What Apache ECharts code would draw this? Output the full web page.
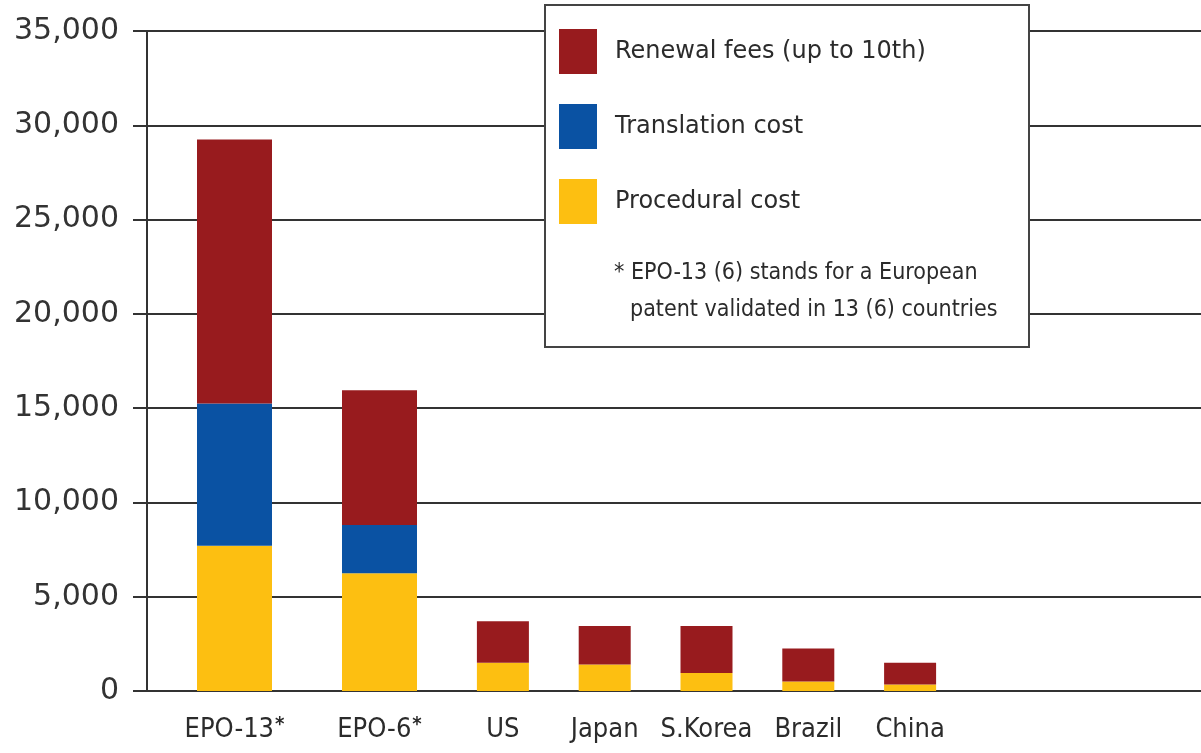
<!DOCTYPE html>
<html>
<head>
    <meta charset="utf-8">
    <script src="https://cdn.jsdelivr.net/npm/echarts@6/dist/echarts.min.js"></script>
    <style>
        html, body { margin: 0; padding: 0; background: #fff; }
        #chart { width: 1201px; height: 753px; }
    </style>
</head>
<body>
    <div id="chart"></div>
    <script>
        // categories and cost components (EUR)
        let epoNames = ['EPO-13*', 'EPO-6*'];
        let otherNames = ['US', 'Japan', 'S.Korea', 'Brazil', 'China'];
        let procedural = [7700, 6250, 1500, 1400, 950, 500, 350];
        let translation = [7550, 2550, 0, 0, 0, 0, 0];
        let renewal = [14000, 7150, 2200, 2050, 2500, 1750, 1150];
        let yTicks = [0, 35000, 5000]; // min, max, interval

        let colors = { renewal: '#981b1e', translation: '#0a52a3', procedural: '#fdbf11' };
        let labelFont = "'Liberation Sans Narrow', 'DejaVu Sans Condensed', sans-serif";

        var chart = echarts.init(document.getElementById('chart'), null, { renderer: 'canvas' });

        function xLabel(v) {
            if (v.indexOf('*') >= 0) return '{a|' + v.replace('*', '') + '}{s|*}';
            return '{a|' + v + '}';
        }

        function hiddenY(idx) {
            return { type: 'value', gridIndex: idx, min: yTicks[0], max: yTicks[1], interval: yTicks[2], show: false };
        }

        function catX(idx, names) {
            return {
                type: 'category', gridIndex: idx, data: names,
                axisLine: { show: false }, axisTick: { show: false },
                axisLabel: {
                    margin: 24, formatter: xLabel,
                    rich: {
                        a: { fontFamily: labelFont, fontSize: 27, lineHeight: 30, color: '#2b2b2b' },
                        s: { fontFamily: labelFont, fontSize: 20, fontWeight: 'bold', lineHeight: 30, color: '#2b2b2b', verticalAlign: 'top', padding: [0, 0, 0, 1] }
                    }
                }
            };
        }

        function barSeries(name, values, color, idx, width) {
            return {
                name: name, type: 'bar', stack: 'g' + idx,
                xAxisIndex: idx, yAxisIndex: idx,
                barWidth: width, data: values,
                itemStyle: { color: color }, z: 2
            };
        }

        var n = epoNames.length;
        var option = {
            animation: false,
            grid: [
                { left: 147, right: 0, top: 31, bottom: 62 },
                { left: 162, width: 290, top: 31, bottom: 62 },
                { left: 452, width: 509, top: 31, bottom: 62 }
            ],
            xAxis: [
                {
                    type: 'value', gridIndex: 0, min: 0, max: 1,
                    axisLine: { show: true, lineStyle: { color: '#333', width: 2 } },
                    axisTick: { show: false }, axisLabel: { show: false }, splitLine: { show: false }
                },
                catX(1, epoNames),
                catX(2, otherNames)
            ],
            yAxis: [
                {
                    type: 'value', gridIndex: 0, min: yTicks[0], max: yTicks[1], interval: yTicks[2],
                    axisLine: { show: true, lineStyle: { color: '#333', width: 2 } },
                    axisTick: { show: true, length: 14, lineStyle: { color: '#333', width: 2 } },
                    splitLine: { show: true, lineStyle: { color: '#333', width: 2 } },
                    axisLabel: {
                        margin: 28, fontFamily: 'DejaVu Sans', fontSize: 30, color: '#333',
                        formatter: function (v) { return v.toLocaleString('en-US'); }
                    }
                },
                hiddenY(1),
                hiddenY(2)
            ],
            legend: {
                data: ['Renewal fees (up to 10th)', 'Translation cost', 'Procedural cost'],
                orient: 'vertical', left: 559, top: 29,
                icon: 'rect', itemWidth: 38, itemHeight: 45, itemGap: 30,
                padding: 0, z: 10,
                textStyle: { fontFamily: 'DejaVu Sans', fontSize: 24, color: '#2b2b2b', padding: [0, 0, 0, 13] }
            },
            graphic: [
                {
                    type: 'rect', z: 5, left: 544, top: 4,
                    shape: { width: 484, height: 342 },
                    style: { fill: '#fff', stroke: '#444', lineWidth: 2 }
                },
                {
                    type: 'text', z: 11, left: 614, top: 262,
                    style: { text: '* EPO-13 (6) stands for a European', fontFamily: "'DejaVu Sans Condensed', sans-serif", fontSize: 23, fill: '#2b2b2b' }
                },
                {
                    type: 'text', z: 11, left: 630, top: 299,
                    style: { text: 'patent validated in 13 (6) countries', fontFamily: "'DejaVu Sans Condensed', sans-serif", fontSize: 23, fill: '#2b2b2b' }
                }
            ],
            series: [
                barSeries('Procedural cost', procedural.slice(0, n), colors.procedural, 1, 75),
                barSeries('Translation cost', translation.slice(0, n), colors.translation, 1, 75),
                barSeries('Renewal fees (up to 10th)', renewal.slice(0, n), colors.renewal, 1, 75),
                barSeries('Procedural cost', procedural.slice(n), colors.procedural, 2, 52),
                barSeries('Translation cost', translation.slice(n), colors.translation, 2, 52),
                barSeries('Renewal fees (up to 10th)', renewal.slice(n), colors.renewal, 2, 52)
            ]
        };
        chart.setOption(option);
    </script>
</body>
</html>
